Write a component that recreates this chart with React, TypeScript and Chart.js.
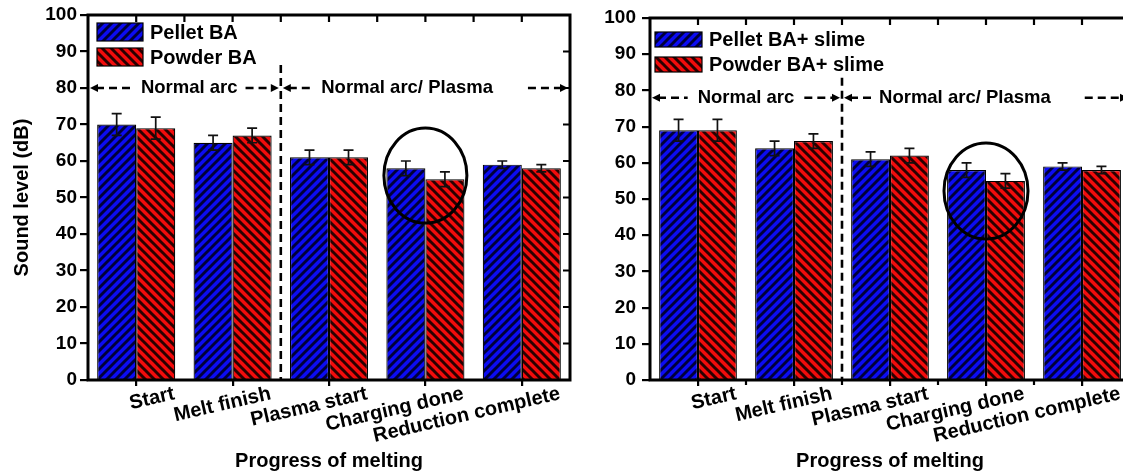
import React, { useEffect, useRef } from 'react';
import { Chart, registerables } from 'chart.js';

Chart.register(...registerables);

// ---------- data ----------
const categories = ['Start', 'Melt finish', 'Plasma start', 'Charging done', 'Reduction complete'];

const pelletBA = [70, 65, 61, 58, 59];
const pelletBAErr = [3, 2, 2, 2, 1];
const powderBA = [69, 67, 61, 55, 58];
const powderBAErr = [3, 2, 2, 2, 1];

const pelletSlime = [69, 64, 61, 58, 59];
const pelletSlimeErr = [3, 2, 2, 2, 1];
const powderSlime = [69, 66, 62, 55, 58];
const powderSlimeErr = [3, 2, 2, 2, 1];

const leftLegend = ['Pellet BA', 'Powder BA'];
const rightLegend = ['Pellet BA+ slime', 'Powder BA+ slime'];
const phaseLabels = ['Normal arc', 'Normal arc/ Plasma'];
const xTitle = 'Progress of melting';
const yTitle = 'Sound level (dB)';

const FONT = "'Liberation Sans', Arial, sans-serif";

function hatch(bg: string, fg: string, dir: number) {
  const s = 9;
  const c = document.createElement('canvas');
  c.width = s;
  c.height = s;
  const g = c.getContext('2d')!;
  g.fillStyle = bg;
  g.fillRect(0, 0, s, s);
  g.strokeStyle = fg;
  g.lineWidth = 2.9;
  g.beginPath();
  if (dir > 0) {
    g.moveTo(-1, s + 1); g.lineTo(s + 1, -1);
    g.moveTo(-2, 2); g.lineTo(2, -2);
    g.moveTo(s - 2, s + 2); g.lineTo(s + 2, s - 2);
  } else {
    g.moveTo(-1, -1); g.lineTo(s + 1, s + 1);
    g.moveTo(s - 2, -2); g.lineTo(s + 2, 2);
    g.moveTo(-2, s - 2); g.lineTo(2, s + 2);
  }
  g.stroke();
  return g.createPattern(c, 'repeat')!;
}

type PanelCfg = {
  canvasWidth: number;
  padTop: number;
  padRight: number;
  yWidth: number;
  showYTitle: boolean;
  yTickPad: number;
  series: { label: string; data: number[]; errors: number[]; blue: boolean }[];
  legend: { dx: number; dy: number; w: number; h: number; gap: number };
  phaseY: number;
  phaseText: number[];
  phaseGaps: number[][];
  dividerTop: number;
  circleY: number;
  circleRx: number;
  circleRy: number;
  minorBottom: boolean;
};

function drawArrowHead(ctx: CanvasRenderingContext2D, x: number, y: number, dir: number) {
  ctx.beginPath();
  ctx.moveTo(x, y);
  ctx.lineTo(x - dir * 8, y - 4);
  ctx.lineTo(x - dir * 8, y + 4);
  ctx.closePath();
  ctx.fill();
}

function makeChart(canvas: HTMLCanvasElement, cfg: PanelCfg) {
  const bluePat = hatch('#0c0cf2', '#00003a', 1);
  const redPat = hatch('#f20c0c', '#2a0000', -1);

  const datasets = cfg.series.map((s) => ({
    label: s.label,
    data: s.data,
    errors: s.errors,
    backgroundColor: s.blue ? bluePat : redPat,
    borderColor: '#000',
    borderWidth: 1.2,
    barPercentage: 1,
    categoryPercentage: 0.81,
  }));

  const plugin = {
    id: 'decor',
    afterDatasetsDraw(chart: any) {
      const ctx: CanvasRenderingContext2D = chart.ctx;
      const xs = chart.scales.x;
      const ys = chart.scales.y;
      const a = chart.chartArea;
      ctx.save();
      // error bars
      ctx.strokeStyle = '#111';
      ctx.lineWidth = 1.7;
      chart.data.datasets.forEach((ds: any, di: number) => {
        const meta = chart.getDatasetMeta(di);
        meta.data.forEach((bar: any, i: number) => {
          const v = ds.data[i];
          const e = ds.errors[i];
          const yt = ys.getPixelForValue(v + e);
          const yb = ys.getPixelForValue(v - e);
          ctx.beginPath();
          ctx.moveTo(bar.x, yt);
          ctx.lineTo(bar.x, yb);
          ctx.moveTo(bar.x - 5, yt);
          ctx.lineTo(bar.x + 5, yt);
          ctx.moveTo(bar.x - 5, yb);
          ctx.lineTo(bar.x + 5, yb);
          ctx.stroke();
        });
      });

      // divider
      const bx = xs.getPixelForValue(1.5);
      ctx.strokeStyle = '#000';
      ctx.lineWidth = 2.6;
      ctx.setLineDash([8, 5]);
      ctx.beginPath();
      ctx.moveTo(bx, ys.getPixelForValue(cfg.dividerTop));
      ctx.lineTo(bx, a.bottom);
      ctx.stroke();

      // phase arrows
      const py = ys.getPixelForValue(cfg.phaseY);
      ctx.font = `bold 18.5px ${FONT}`;
      ctx.textAlign = 'center';
      ctx.textBaseline = 'middle';
      ctx.fillStyle = '#000';
      const segs = [
        [xs.getPixelForValue(-0.5) + 2, bx - 2],
        [bx + 2, xs.getPixelForValue(4.5) - 2],
      ];
      segs.forEach((sg, k) => {
        const tx = xs.getPixelForValue(cfg.phaseText[k]);
        const tw = ctx.measureText(phaseLabels[k]).width;
        ctx.fillText(phaseLabels[k], tx, py);
        ctx.setLineDash([8, 5]);
        ctx.lineWidth = 2.5;
        ctx.beginPath();
        ctx.moveTo(sg[0] + 6, py);
        ctx.lineTo(tx - tw / 2 - cfg.phaseGaps[k][0], py);
        ctx.moveTo(tx + tw / 2 + cfg.phaseGaps[k][1], py);
        ctx.lineTo(sg[1] - 6, py);
        ctx.stroke();
        ctx.setLineDash([]);
        drawArrowHead(ctx, sg[0], py, -1);
        drawArrowHead(ctx, sg[1], py, 1);
      });

      // circle
      ctx.setLineDash([]);
      ctx.lineWidth = 3;
      ctx.strokeStyle = '#000';
      ctx.beginPath();
      ctx.ellipse(xs.getPixelForValue(3), ys.getPixelForValue(cfg.circleY), cfg.circleRx, cfg.circleRy, 0, 0, Math.PI * 2);
      ctx.stroke();

      // frame
      ctx.lineWidth = 3;
      ctx.strokeRect(a.left, a.top, a.right - a.left, a.bottom - a.top);

      // extra ticks
      ctx.lineWidth = 2.2;
      ctx.beginPath();
      for (let i = 0; i <= 8; i++) {
        const x = xs.getPixelForValue(i / 2);
        ctx.moveTo(x, a.top);
        ctx.lineTo(x, a.top + 7);
      }
      for (let v = 10; v <= 90; v += 10) {
        const y = ys.getPixelForValue(v);
        ctx.moveTo(a.right, y);
        ctx.lineTo(a.right - 7, y);
      }
      if (cfg.minorBottom) {
        for (let i = 0; i < 4; i++) {
          const x = xs.getPixelForValue(i + 0.5);
          ctx.moveTo(x, a.bottom);
          ctx.lineTo(x, a.bottom + 5);
        }
      }
      ctx.stroke();

      // legend
      const L = cfg.legend;
      ctx.font = `bold 20px ${FONT}`;
      ctx.textAlign = 'left';
      ctx.textBaseline = 'middle';
      chart.data.datasets.forEach((ds: any, di: number) => {
        const lx = a.left + L.dx;
        const ly = a.top + L.dy + di * L.gap;
        ctx.fillStyle = ds.backgroundColor;
        ctx.fillRect(lx, ly, L.w, L.h);
        ctx.lineWidth = 1.2;
        ctx.strokeStyle = '#000';
        ctx.strokeRect(lx, ly, L.w, L.h);
        ctx.fillStyle = '#000';
        ctx.fillText(ds.label, lx + L.w + 7, ly + L.h / 2 + 1);
      });
      ctx.restore();
    },
  };

  return new Chart(canvas, {
    type: 'bar',
    data: { labels: categories, datasets: datasets as any },
    options: {
      responsive: false,
      animation: false,
      devicePixelRatio: 1,
      events: [],
      layout: { padding: { top: cfg.padTop, right: cfg.padRight, left: 0, bottom: 0 } },
      plugins: { legend: { display: false }, tooltip: { enabled: false } },
      scales: {
        x: {
          offset: true,
          afterFit: (s: any) => { s.height = 93; },
          grid: { display: true, drawOnChartArea: false, drawTicks: true, tickLength: 6, offset: false, color: '#000', lineWidth: 2.2 },
          border: { display: false },
          ticks: {
            autoSkip: false,
            minRotation: 13,
            maxRotation: 13,
            labelOffset: 38,
            padding: -4,
            color: '#000',
            font: { family: FONT, size: 20, weight: 'bold' },
          },
          title: {
            display: true,
            text: xTitle,
            color: '#000',
            font: { family: FONT, size: 20, weight: 'bold' },
            padding: { top: 0, bottom: 0 },
          },
        },
        y: {
          min: 0,
          max: 100,
          afterFit: (s: any) => { s.width = cfg.yWidth; },
          grid: { display: true, drawOnChartArea: false, drawTicks: true, tickLength: 8, color: '#000', lineWidth: 2.2 },
          border: { display: false },
          ticks: {
            stepSize: 10,
            padding: cfg.yTickPad,
            color: '#000',
            font: { family: FONT, size: 19, weight: 'bold' },
          },
          title: {
            display: cfg.showYTitle,
            text: yTitle,
            color: '#000',
            font: { family: FONT, size: 20, weight: 'bold' },
            padding: { top: 10, bottom: 0 },
          },
        },
      },
    } as any,
    plugins: [plugin],
  });
}

const leftCfg: PanelCfg = {
  canvasWidth: 590,
  padTop: 15,
  padRight: 20,
  yWidth: 88,
  showYTitle: true,
  yTickPad: 3,
  series: [
    { label: leftLegend[0], data: pelletBA, errors: pelletBAErr, blue: true },
    { label: leftLegend[1], data: powderBA, errors: powderBAErr, blue: false },
  ],
  legend: { dx: 9, dy: 8, w: 46, h: 18, gap: 25 },
  phaseY: 80,
  phaseText: [0.55, 2.81],
  phaseGaps: [[10, 8], [8, 35]],
  dividerTop: 86.3,
  circleY: 56,
  circleRx: 41.5,
  circleRy: 47.5,
  minorBottom: false,
};

const rightCfg: PanelCfg = {
  canvasWidth: 560,
  padTop: 18,
  padRight: 20,
  yWidth: 60,
  showYTitle: false,
  yTickPad: 6,
  series: [
    { label: rightLegend[0], data: pelletSlime, errors: pelletSlimeErr, blue: true },
    { label: rightLegend[1], data: powderSlime, errors: powderSlimeErr, blue: false },
  ],
  legend: { dx: 5, dy: 14, w: 47, h: 15, gap: 25 },
  phaseY: 78,
  phaseText: [0.5, 2.78],
  phaseGaps: [[10, 10], [8, 34]],
  dividerTop: 83.5,
  circleY: 52.2,
  circleRx: 42,
  circleRy: 48,
  minorBottom: true,
};

export default function App() {
  const leftRef = useRef<HTMLCanvasElement>(null);
  const rightRef = useRef<HTMLCanvasElement>(null);

  useEffect(() => {
    const c1 = makeChart(leftRef.current!, leftCfg);
    const c2 = makeChart(rightRef.current!, rightCfg);
    return () => {
      c1.destroy();
      c2.destroy();
    };
  }, []);

  return (
    <div style={{ position: 'fixed', left: 0, top: 0, width: 1123, height: 473, overflow: 'hidden', background: '#fff' }}>
      <canvas ref={leftRef} width={590} height={473} style={{ position: 'absolute', left: 0, top: 0, width: 590, height: 473 }} />
      <canvas ref={rightRef} width={560} height={473} style={{ position: 'absolute', left: 590, top: 0, width: 560, height: 473 }} />
    </div>
  );
}
